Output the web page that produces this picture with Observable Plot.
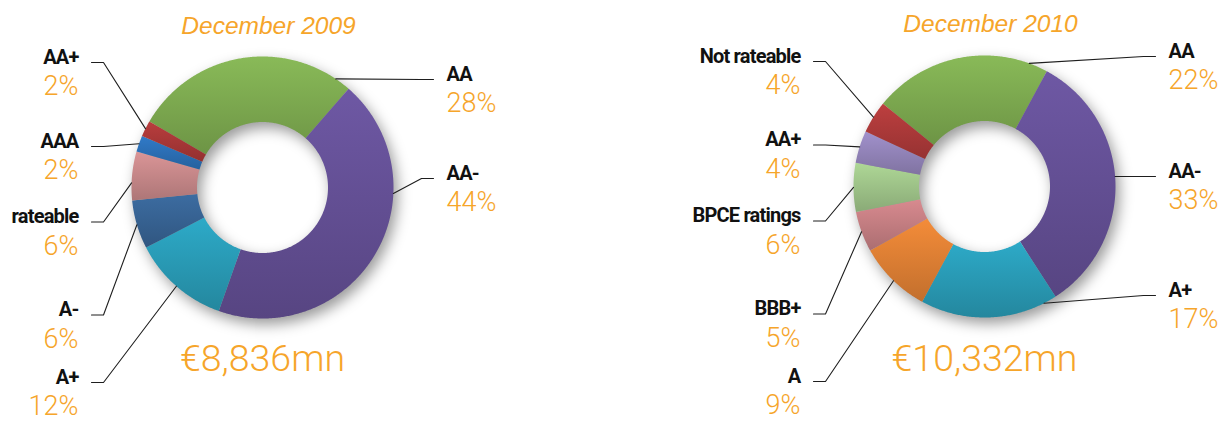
<!DOCTYPE html>
<html>
<head>
<meta charset="utf-8">
<script src="https://cdn.jsdelivr.net/npm/d3@7"></script>
<script src="https://cdn.jsdelivr.net/npm/@observablehq/plot@0.6"></script>
<style>
  body { margin: 0; background: #fff; }
  #chart { width: 1225px; height: 421px; }
</style>
</head>
<body>
<div id="chart"></div>
<script>
// ---------------- data ----------------
const titles = ["December 2009", "December 2010"];
const totals = ["€8,836mn", "€10,332mn"];

const categories2009 = ["AA", "AA-", "A+", "A-", "rateable", "AAA", "AA+"];
const values2009     = [28, 44, 12, 6, 6, 2, 2];

const categories2010 = ["AA", "AA-", "A+", "A", "BBB+", "BPCE ratings", "AA+", "Not rateable"];
const values2010     = [22, 33, 17, 9, 5, 6, 4, 4];

// ---------------- styles ----------------
const colors2009 = ["#87b756", "#6c56a1", "#2ca7c4", "#3b6a9e", "#d69294", "#2f78c4", "#b63c3c"];
const colors2010 = ["#87b756", "#6c56a1", "#2ca7c4", "#f08a38", "#d4888c", "#abd393", "#9e8ec8", "#ba3e3e"];
const ORANGE = "#f6a52a";

// ---------------- layout ----------------
// per label: [side, leader y, anchor angle in degrees (null = slice middle)]
const layouts = [
  {
    cx: 262, cy: 187, R: 131, r: 65.5, start: -59.7, titleDx: 6, titleY: 33, totalY: 370,
    labels: {
      "AA": ["right", 79, 34], "AA-": ["right", 178, 92.6], "A+": ["left", 382, null],
      "A-": ["left", 314.5, null], "rateable": ["left", 221.5, 272], "AAA": ["left", 146, null],
      "AA+": ["left", 62, null]
    }
  },
  {
    cx: 984, cy: 186, R: 131, r: 65.5, start: -50.8, titleDx: 6, titleY: 31, totalY: 370,
    labels: {
      "AA": ["right", 56, 20], "AA-": ["right", 176, 85.6], "A+": ["right", 295, 153],
      "A": ["left", 381, 224], "BBB+": ["left", 313.5, null], "BPCE ratings": ["left", 220.5, null],
      "AA+": ["left", 144.5, null], "Not rateable": ["left", 61, null]
    }
  }
];
const TEXT_DX = 184, LINE_DX = 171, ELBOW_DX = 159, PCT_DY = 31.5;

const charts = [
  {cats: categories2009, vals: values2009, cols: colors2009},
  {cats: categories2010, vals: values2010, cols: colors2010}
];

// ---------------- build mark data ----------------
const slicePts = [], leaderPts = [], labels = [], heads = [];
const colorDomain = [], colorRange = [];
const rad = Math.PI / 180;

charts.forEach((c, ci) => {
  const L = layouts[ci];
  const pie = d3.pie().sort(null).value(d => d)
    .startAngle(L.start * rad).endAngle(L.start * rad + 2 * Math.PI)(c.vals);
  pie.forEach((arc, i) => {
    const key = `${ci}-${c.cats[i]}`;
    colorDomain.push(key); colorRange.push(c.cols[i]);
    const n = Math.max(2, Math.ceil((arc.endAngle - arc.startAngle) / (0.5 * rad)));
    for (let k = 0; k <= n; k++) {
      const a = arc.startAngle + (arc.endAngle - arc.startAngle) * k / n;
      slicePts.push({key, x: L.cx + L.R * Math.sin(a), y: L.cy - L.R * Math.cos(a)});
    }
    for (let k = n; k >= 0; k--) {
      const a = arc.startAngle + (arc.endAngle - arc.startAngle) * k / n;
      slicePts.push({key, x: L.cx + L.r * Math.sin(a), y: L.cy - L.r * Math.cos(a)});
    }
    const [side, ly, ang] = L.labels[c.cats[i]];
    const a = ang == null ? (arc.startAngle + arc.endAngle) / 2 : ang * rad;
    const s = side === "left" ? -1 : 1;
    leaderPts.push(
      {key, x: L.cx + L.R * Math.sin(a), y: L.cy - L.R * Math.cos(a)},
      {key, x: L.cx + s * ELBOW_DX, y: ly},
      {key, x: L.cx + s * LINE_DX, y: ly}
    );
    labels.push({side, name: c.cats[i], pct: `${c.vals[i]}%`, x: L.cx + s * TEXT_DX, y: ly + 1});
  });
  heads.push({title: titles[ci], total: totals[ci], tx: L.cx + L.titleDx, ty: L.titleY,
              x: L.cx, y: L.totalY, cy: L.cy, ring: (L.R + L.r) / 2, width: L.R - L.r});
});

const FONT = "Roboto, 'Liberation Sans', sans-serif";

const plot = Plot.plot({
  width: 1225, height: 421,
  margin: 0,
  x: {domain: [0, 1225], range: [0, 1225], axis: null},
  y: {domain: [0, 421], range: [0, 421], axis: null},
  color: {domain: colorDomain, range: colorRange},
  style: {background: "#fff", overflow: "visible"},
  marks: [
    // soft shadow under each ring
    Plot.dot(heads, {x: "x", y: "cy", r: heads[0].ring, dx: 4, dy: 6, fill: "none",
      stroke: "#000", strokeOpacity: 0.4, strokeWidth: heads[0].width}),
    // slices
    Plot.line(slicePts, {x: "x", y: "y", z: "key", fill: "key", stroke: "key", strokeWidth: 0.3,
      curve: "linear-closed"}),
    // leaders
    Plot.line(leaderPts, {x: "x", y: "y", z: "key", stroke: "#1e1e1e", strokeWidth: 1.1, curve: "linear"}),
    // category names
    Plot.text(labels, {filter: d => d.side === "left", x: "x", y: "y", text: "name", textAnchor: "end", lineAnchor: "bottom",
      fontFamily: FONT, fontWeight: "bold", fontSize: 20, fill: "#111"}),
    Plot.text(labels, {filter: d => d.side === "right", x: "x", y: "y", text: "name", textAnchor: "start", lineAnchor: "bottom",
      fontFamily: FONT, fontWeight: "bold", fontSize: 20, fill: "#111"}),
    // percentages
    Plot.text(labels, {filter: d => d.side === "left", x: "x", y: d => d.y + PCT_DY, text: "pct", textAnchor: "end", lineAnchor: "bottom",
      fontFamily: FONT, fontWeight: 300, fontSize: 27, fill: ORANGE}),
    Plot.text(labels, {filter: d => d.side === "right", x: "x", y: d => d.y + PCT_DY, text: "pct", textAnchor: "start", lineAnchor: "bottom",
      fontFamily: FONT, fontWeight: 300, fontSize: 27, fill: ORANGE}),
    // titles and totals
    Plot.text(heads, {x: "tx", y: "ty", text: "title", textAnchor: "middle", lineAnchor: "bottom",
      fontFamily: "'Liberation Sans', Arial, sans-serif", fontStyle: "italic", fontSize: 24.5, fill: ORANGE}),
    Plot.text(heads, {x: "x", y: "y", text: "total", textAnchor: "middle", lineAnchor: "bottom",
      fontFamily: FONT, fontWeight: 300, fontSize: 37.5, fill: ORANGE})
  ]
});

// finishing touches: blurred shadow, condensed names, vertical shading of slices
const svg = d3.select(plot);
const groups = svg.selectAll(":scope > g").nodes().map(g => d3.select(g));
const [shadowG, sliceG, , nameL, nameR] = groups;
shadowG.style("filter", "blur(7px)");
nameL.style("letter-spacing", "-0.8px");
nameR.style("letter-spacing", "-0.8px");
const defs = svg.insert("defs", ":first-child");
sliceG.selectAll("path").each(function(_, i) {
  const p = d3.select(this);
  const base = d3.color(p.attr("fill"));
  if (!base) return;
  const id = `grad-${i}`;
  const g = defs.append("linearGradient").attr("id", id)
    .attr("x1", "0").attr("y1", "0").attr("x2", "0").attr("y2", "1");
  g.append("stop").attr("offset", "0%").attr("stop-color", base.brighter(0.05).formatHex());
  g.append("stop").attr("offset", "100%").attr("stop-color", base.darker(0.6).formatHex());
  p.attr("fill", `url(#${id})`).attr("stroke", "none");
});

document.getElementById("chart").appendChild(plot);
</script>
</body>
</html>
